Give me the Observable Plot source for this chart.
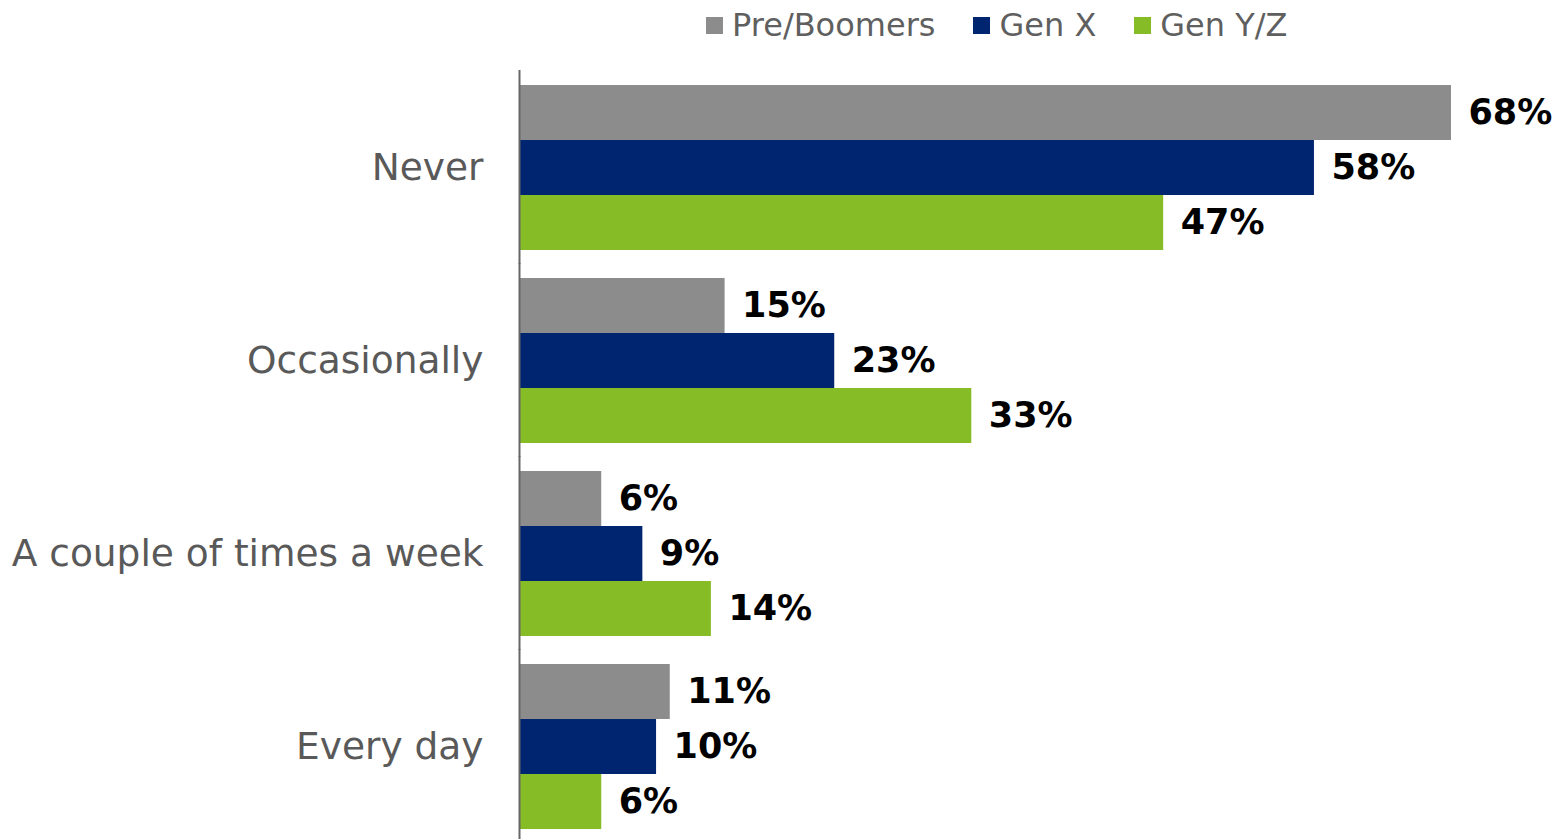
<!DOCTYPE html>
<html>
<head>
<meta charset="utf-8">
<script src="https://cdn.jsdelivr.net/npm/d3@7"></script>
<script src="https://cdn.jsdelivr.net/npm/@observablehq/plot@0.6"></script>
<style>
  html, body { margin: 0; padding: 0; background: #fff; }
  body { width: 1554px; height: 839px; overflow: hidden; font-family: "DejaVu Sans", Verdana, sans-serif; }
  #legend { height: 50px; display: flex; align-items: center; padding-left: 706px; box-sizing: border-box; }
  .item { display: flex; align-items: center; margin-right: 38px; font-size: 32px; color: #5f5f5f; }
  .swatch { width: 17px; height: 17px; margin-right: 9px; }
  svg { display: block; }
</style>
</head>
<body>
<div id="legend"></div>
<div id="chart"></div>
<script>
const categories = ["Never", "Occasionally", "A couple of times a week", "Every day"];
const series = ["Pre/Boomers", "Gen X", "Gen Y/Z"];
const preBoomers = [68, 15, 6, 11];
const genX = [58, 23, 9, 10];
const genYZ = [47, 33, 14, 6];
const colors = ["#8c8c8c", "#002570", "#86bc25"];

const seriesValues = [preBoomers, genX, genYZ];
const data = [];
categories.forEach((c, i) => {
  series.forEach((s, j) => {
    data.push({category: c, series: s, value: seriesValues[j][i]});
  });
});

// legend
const legend = document.getElementById("legend");
series.forEach((s, j) => {
  const item = document.createElement("div");
  item.className = "item";
  const sw = document.createElement("div");
  sw.className = "swatch";
  sw.style.background = colors[j];
  const label = document.createElement("span");
  label.textContent = s;
  item.appendChild(sw);
  item.appendChild(label);
  legend.appendChild(item);
});

const chart = Plot.plot({
  width: 1554,
  height: 789,
  marginLeft: 519,
  marginRight: 103,
  marginTop: 32,
  marginBottom: 9,
  style: {fontFamily: "DejaVu Sans, Verdana, sans-serif", background: "#fff"},
  x: {domain: [0, d3.max(data, d => d.value)], axis: null},
  y: {domain: series, padding: 0, axis: null},
  fy: {domain: categories, paddingInner: 0.142, paddingOuter: 0, label: null},
  color: {domain: series, range: colors},
  marks: [
    Plot.barX(data, {fy: "category", y: "series", x: "value", fill: "series"}),
    Plot.text(data, {
      fy: "category", y: "series", x: "value",
      text: d => d.value + "%",
      textAnchor: "start", dx: 17,
      fontSize: 35, fontWeight: "bold", fill: "#000"
    }),
    Plot.ruleX([0], {stroke: "#666", strokeWidth: 2, insetTop: -14, insetBottom: -14}),
    Plot.axisFy({anchor: "left", tickSize: 0, tickPadding: 36, fontSize: 37.5, color: "#595959", label: null})
  ]
});
document.getElementById("chart").appendChild(chart);
</script>
</body>
</html>
